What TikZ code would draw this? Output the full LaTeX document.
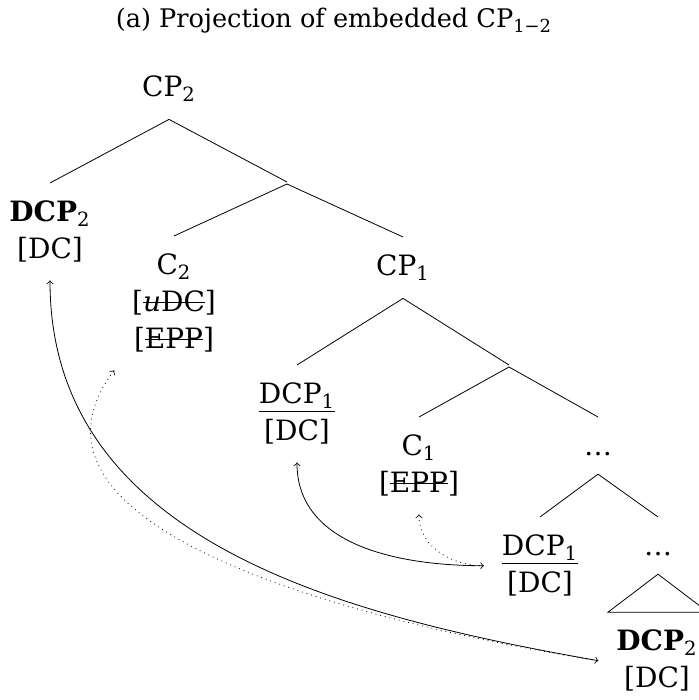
\documentclass[tikz,border=0pt]{standalone}
\usepackage{fontspec}
\setmainfont{DejaVu Serif}
\newsavebox{\strkbox}
\newcommand{\strk}[1]{\sbox{\strkbox}{#1}\rlap{\rule[0.3em]{\wd\strkbox}{0.45pt}}\usebox{\strkbox}}
\begin{document}
\begin{tikzpicture}[x=0.5pt,y=0.5pt]
\tikzset{
  lbl/.style={font=\fontsize{14}{18.5}\selectfont, align=center, inner sep=0pt, outer sep=9pt},
  bar/.style={inner sep=0pt, outer sep=0pt},
  mv/.style={<->},
  agr/.style={<-, dotted}
}
\useasboundingbox (0,0) rectangle (699,700);

% Title
\node[font=\fontsize{12.8}{15}\selectfont] (title) at (334,679) {(a) Projection of embedded CP\textsubscript{1−2}};

% The higher clause
\node[lbl, anchor=north] (cp2) at (169,642) {CP\textsubscript{2}};
\node[bar] (bar2) at (287,517) {};
\node[lbl, anchor=north] (dcp2) at (50,517) {\textbf{DCP}\textsubscript{2}\\{[DC]}};
\node[lbl, anchor=north] (c2) at (174,464) {C\textsubscript{2}\\{[\strk{\textit{u}DC}]}\\{[\strk{EPP}]}};
\node[lbl, anchor=north] (cp1) at (403,463) {CP\textsubscript{1}};

% The embedded clause
\node[bar] (bar1) at (509,334) {};
\node[lbl, anchor=north] (dcp1) at (297,335) {\underline{DCP\textsubscript{1}}\\{[DC]}};
\node[lbl, anchor=north] (c1) at (419,283) {C\textsubscript{1}\\{[\strk{EPP}]}};
\node[lbl, anchor=north] (dots1) at (598,283) {\vphantom{C}\ldots};
\node[lbl, anchor=north] (dcp1low) at (540,183) {\underline{DCP\textsubscript{1}}\\{[DC]}};
\node[lbl, anchor=north] (dots2) at (658,183) {\vphantom{C}\ldots};
\node[lbl, anchor=north] (dcp2low) at (657,88) {\textbf{DCP}\textsubscript{2}\\{[DC]}};

% Branches
\foreach \a/\b in {cp2/dcp2, cp2/bar2, bar2/c2, bar2/cp1, cp1/dcp1, cp1/bar1,
                   bar1/c1, bar1/dots1, dots1/dcp1low, dots1/dots2}{
  \draw (\a.south) -- (\b.north);
}
\draw (dots2.south) -- ++(-50,-38) -- ++(100,0) -- cycle;

% Movement and agreement
\draw[mv] (dcp1.south) to[out=-90,in=180] (dcp1low.west);
\draw[agr] (c1.south) to[out=-90,in=180] (dcp1low.west);
\draw[mv] (dcp2.south) to[out=-90,in=170] (dcp2low.west);
\draw[agr] (c2.south west) .. controls +(-117,-157) and +(-250,40) .. (dcp2low.west);

\end{tikzpicture}
\end{document}
